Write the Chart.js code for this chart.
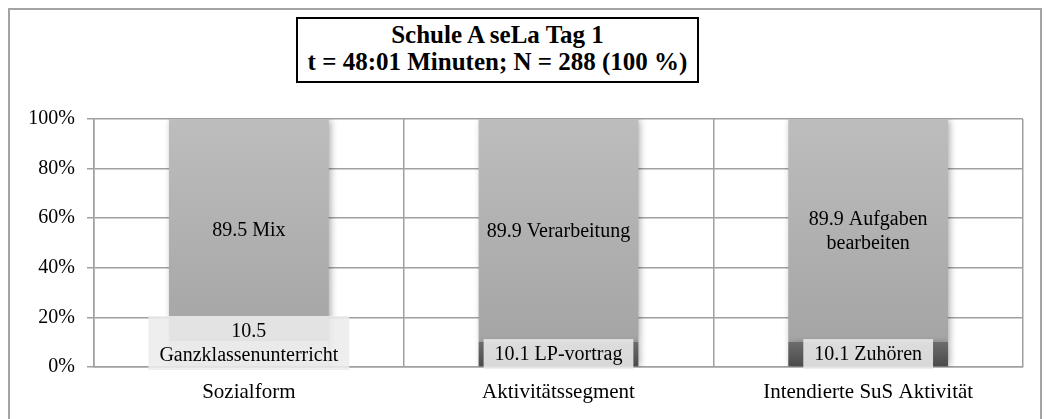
<!DOCTYPE html>
<html>
<head>
<meta charset="utf-8">
<script src="https://cdn.jsdelivr.net/npm/chart.js@4"></script>
<style>
  body { margin: 0; background: #fff; }
  #wrap { position: relative; width: 1046px; height: 419px; overflow: hidden; }
  #frame { position: absolute; left: 8px; top: 8px; width: 1030px; height: 430px; border: 2px solid #a3a3a3; }
  #title {
    position: absolute; left: 296px; top: 17px; width: 399px; height: 60px;
    border: 2px solid #000; background: #fff;
    font-family: "Liberation Serif", "Times New Roman", serif; font-weight: bold;
    font-size: 25px; line-height: 27px; text-align: center; padding-top: 2px; box-sizing: content-box;
    white-space: nowrap;
  }
  #title div { height: 27px; }
  canvas { position: absolute; left: 0; top: 0; }
</style>
</head>
<body>
<div id="wrap">
  <div id="frame"></div>
  <canvas id="chart" width="1046" height="419"></canvas>
  <div id="title"><div>Schule A seLa Tag 1</div><div>t = 48:01 Minuten; N = 288 (100 %)</div></div>
</div>
<script>
const categories = ['Sozialform', 'Aktivitätssegment', 'Intendierte SuS Aktivität']
const lowerValues = [10.5, 10.1, 10.1]
const upperValues = [89.5, 89.9, 89.9]
const lowerLabels = [['10.5', 'Ganzklassenunterricht'], ['10.1 LP-vortrag'], ['10.1 Zuhören']]
const upperLabels = [['89.5 Mix'], ['89.9 Verarbeitung'], ['89.9 Aufgaben', 'bearbeiten']]
const yTicks = [0, 20, 40, 60, 80, 100]

Chart.defaults.font.family = '"Liberation Serif", "Times New Roman", serif'
Chart.defaults.color = '#000'

const upperFill = (c) => {
    const area = c.chart.chartArea
    if (!area) return '#b0b0b0'
    const g = c.chart.ctx.createLinearGradient(0, area.top, 0, area.bottom)
    g.addColorStop(0, '#bdbdbd')
    g.addColorStop(1, '#a2a2a2')
    return g
}
const lowerFill = (c) => {
    if (c.dataIndex === 0) return '#dcdcdc'
    const y = c.chart.scales.y
    if (!y || !c.chart.chartArea) return '#5a5a5a'
    const g = c.chart.ctx.createLinearGradient(0, y.getPixelForValue(lowerValues[c.dataIndex]), 0, y.getPixelForValue(0))
    g.addColorStop(0, '#6c6c6c')
    g.addColorStop(1, '#4a4a4a')
    return g
}

// shadow under the bars + labels with box
const barLabels = {
    id: 'barLabels',
    beforeDatasetsDraw(chart) {
        const ctx = chart.ctx
        ctx.save()
        ctx.shadowColor = 'rgba(0,0,0,0.35)'
        ctx.shadowBlur = 7
        ctx.shadowOffsetX = 2
        ctx.shadowOffsetY = 1
    },
    afterDatasetsDraw(chart) {
        const ctx = chart.ctx
        ctx.restore()
        ctx.save()
        ctx.font = '20px "Liberation Serif", "Times New Roman", serif'
        ctx.textAlign = 'center'
        ctx.textBaseline = 'middle'
        const lineH = 24
        const bottom = chart.chartArea.bottom
        chart.data.datasets.forEach((ds, di) => {
            const meta = chart.getDatasetMeta(di)
            meta.data.forEach((bar, i) => {
                const p = bar.getProps(['x', 'y', 'base'], true)
                const lines = ds.labelLines[i]
                let cy = (p.y + p.base) / 2
                const h = lines.length * lineH + 6
                if (ds.boxed) {
                    if (cy + h / 2 > bottom + 3) cy = bottom + 3 - h / 2
                    const w = Math.max(...lines.map(l => ctx.measureText(l).width)) + 22
                    ctx.fillStyle = 'rgba(236,236,236,0.88)'
                    ctx.fillRect(p.x - w / 2, cy - h / 2, w, h)
                }
                ctx.fillStyle = '#000'
                lines.forEach((l, k) => {
                    ctx.fillText(l, p.x, cy + (k - (lines.length - 1) / 2) * lineH + 1)
                })
            })
        })
        ctx.restore()
    }
}

new Chart(document.getElementById('chart'), {
    type: 'bar',
    data: {
        labels: categories,
        datasets: [
            {
                label: 'unten',
                data: lowerValues,
                labelLines: lowerLabels,
                boxed: true,
                backgroundColor: lowerFill,
                borderWidth: 0,
                categoryPercentage: 1,
                barPercentage: 0.516,
            },
            {
                label: 'oben',
                data: upperValues,
                labelLines: upperLabels,
                boxed: false,
                backgroundColor: upperFill,
                borderWidth: 0,
                categoryPercentage: 1,
                barPercentage: 0.516,
            }
        ]
    },
    options: {
        responsive: false,
        animation: false,
        layout: { padding: { top: 119, right: 23, bottom: 0, left: 0 } },
        plugins: {
            legend: { display: false },
            tooltip: { enabled: false },
        },
        scales: {
            x: {
                stacked: true,
                grid: { color: '#a0a0a0', lineWidth: 1.5, drawTicks: false, offset: true },
                border: { color: '#a0a0a0', width: 1.5 },
                ticks: { font: { size: 21 }, padding: 13, maxRotation: 0 },
                afterFit: (s) => { s.height = 52 },
            },
            y: {
                stacked: true,
                min: 0,
                max: 100,
                grid: { color: '#a0a0a0', lineWidth: 1.5, tickLength: 7 },
                border: { color: '#a0a0a0', width: 1.5 },
                afterBuildTicks: (s) => { s.ticks = yTicks.map(v => ({ value: v })) },
                ticks: { font: { size: 20 }, padding: 12, callback: (v) => v + '%' },
                afterFit: (s) => { s.width = 94 },
            }
        }
    },
    plugins: [barLabels]
})
</script>
</body>
</html>
